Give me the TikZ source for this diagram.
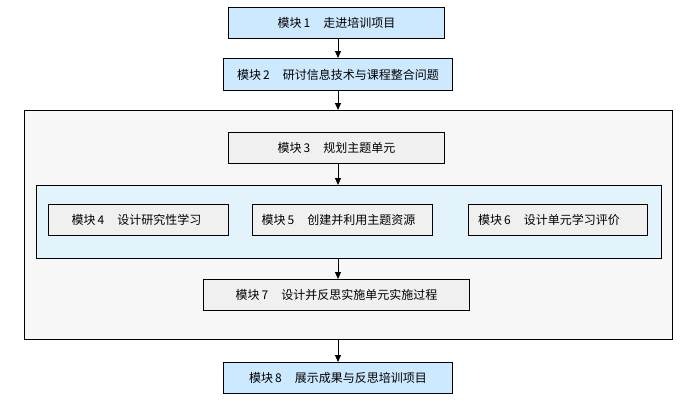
\documentclass[tikz,border=0pt]{standalone}
\usepackage{fontspec}
\setmainfont{Noto Sans CJK SC}
\usetikzlibrary{arrows.meta,calc}
\definecolor{bluebox}{HTML}{CCE9FF}
\definecolor{greybox}{HTML}{F0F0F0}
\definecolor{outerbg}{HTML}{F7F7F7}
\definecolor{innerbg}{HTML}{E3F3FC}
\begin{document}
\begin{tikzpicture}[x=1pt,y=-1pt,
  every node/.style={font=\fontsize{12}{13}\selectfont, inner sep=0pt},
  mod/.style={draw=black, line width=1pt, rectangle, anchor=north west},
  bluemod/.style={mod, fill=bluebox},
  greymod/.style={mod, fill=greybox},
  arr/.style={draw=black, line width=1pt, -{Triangle[width=6pt,length=7pt]}}]
\useasboundingbox (0,0) rectangle (695,400);
\fill[white] (0,0) rectangle (695,400);
% containers
\node[mod, fill=outerbg, minimum width=648pt, minimum height=229pt] (outer) at (24,110) {};
\node[mod, fill=innerbg, minimum width=625pt, minimum height=73pt] (inner) at (36,185) {};
% modules
\node[bluemod, minimum width=216pt, minimum height=31pt] (m1) at (228,7) {};
\node at (m1.center) {模块\,1\hspace{1.1em}走进培训项目};
\node[bluemod, minimum width=229pt, minimum height=32pt] (m2) at (223,58) {};
\node at (m2.center) {模块\,2\hspace{1.1em}研讨信息技术与课程整合问题};
\node[greymod, minimum width=216pt, minimum height=31pt] (m3) at (228,132) {};
\node at (m3.center) {模块\,3\hspace{1.1em}规划主题单元};
\node[greymod, minimum width=180pt, minimum height=31pt] (m4) at (48,204) {};
\node at ($(m4.center)+(-2,0)$) {模块\,4\hspace{1.1em}设计研究性学习};
\node[greymod, minimum width=180pt, minimum height=31pt] (m5) at (252,204) {};
\node at ($(m5.center)+(-4,0)$) {模块\,5\hspace{1.1em}创建并利用主题资源};
\node[greymod, minimum width=179pt, minimum height=31pt] (m6) at (468,204) {};
\node at ($(m6.center)+(-9,0)$) {模块\,6\hspace{1.1em}设计单元学习评价};
\node[greymod, minimum width=266pt, minimum height=31pt] (m7) at (203,279) {};
\node at (m7.center) {模块\,7\hspace{1.1em}设计并反思实施单元实施过程};
\node[bluemod, minimum width=229pt, minimum height=31pt] (m8) at (223,362) {};
\node at (m8.center) {模块\,8\hspace{1.1em}展示成果与反思培训项目};
% connectors
\coordinate (col) at (338,0);
\draw[arr] (m1.south -| col) -- (m2.north -| col);
\draw[arr] (m2.south -| col) -- (outer.north -| col);
\draw[arr] (m3.south -| col) -- (inner.north -| col);
\draw[arr] (inner.south -| col) -- (m7.north -| col);
\draw[arr] (outer.south -| col) -- (m8.north -| col);
\end{tikzpicture}
\end{document}
